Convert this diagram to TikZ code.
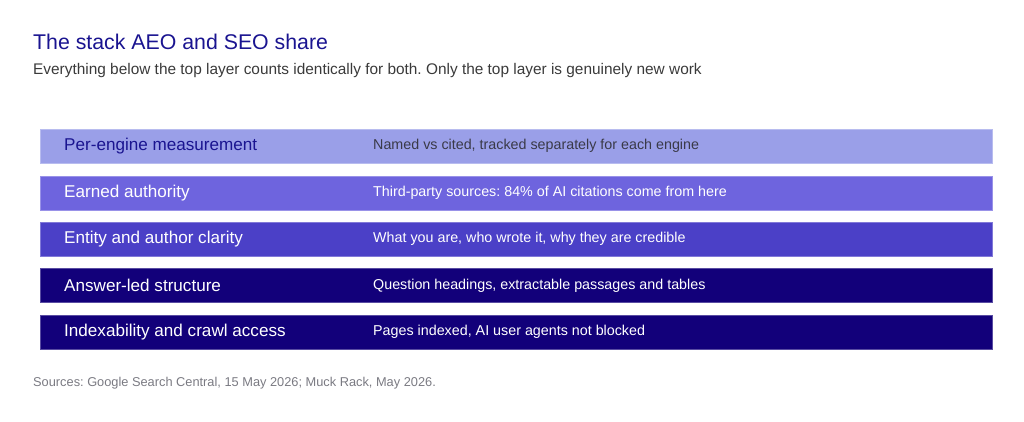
\documentclass[tikz,border=0pt]{standalone}
\usepackage{fontspec}
\setmainfont{Liberation Sans}
\frenchspacing
\definecolor{titleblue}{HTML}{1A1490}
\definecolor{subgrey}{HTML}{3A3A3A}
\definecolor{srcgrey}{HTML}{7A7A82}
\definecolor{rowA}{HTML}{9A9FE8}
\definecolor{rowB}{HTML}{6E64DE}
\definecolor{rowC}{HTML}{4B40C7}
\definecolor{rowD}{HTML}{12007A}
\definecolor{labA}{HTML}{1A1490}
\definecolor{descA}{HTML}{3A3A48}
\begin{document}
\begin{tikzpicture}[x=1pt,y=-1pt,
  rowbox/.style={draw=#1!70!white, line width=0.8pt, fill=#1, minimum width=952pt, minimum height=34pt, inner sep=0pt, anchor=west},
  lab/.style={anchor=west, inner sep=0pt, font=\fontsize{17.1}{20}\selectfont},
  desc/.style={anchor=west, inner sep=0pt, font=\fontsize{14.3}{17}\selectfont}]
\useasboundingbox (0,0) rectangle (1024,421);
\node[anchor=base west, inner sep=0pt, text=titleblue, font=\fontsize{21.3}{25}\selectfont] (title) at (33,49.5) {The stack AEO and SEO share};
\node[anchor=base west, inner sep=0pt, text=subgrey, font=\fontsize{15.4}{18}\selectfont] (sub) at (33,74) {Everything below the top layer counts identically for both. Only the top layer is genuinely new work};
\node[rowbox=rowA] (r1) at (40,146) {};
\node[rowbox=rowB] (r2) at (40,193) {};
\node[rowbox=rowC] (r3) at (40,239) {};
\node[rowbox=rowD] (r4) at (40,285.5) {};
\node[rowbox=rowD] (r5) at (40,332) {};
\node[lab, text=labA] (l1) at (64,146) {Per-engine measurement};
\node[lab, text=white] (l2) at (64,193) {Earned authority};
\node[lab, text=white] (l3) at (64,239) {Entity and author clarity};
\node[lab, text=white] (l4) at (64,285.5) {Answer-led structure};
\node[lab, text=white] (l5) at (64,332) {Indexability and crawl access};
\node[desc, text=descA] (d1) at (373,146) {Named vs cited, tracked separately for each engine};
\node[desc, text=white] (d2) at (373,193) {Third-party sources: 84\% of AI citations come from here};
\node[desc, text=white] (d3) at (373,239) {What you are, who wrote it, why they are credible};
\node[desc, text=white] (d4) at (373,285.5) {Question headings, extractable passages and tables};
\node[desc, text=white] (d5) at (373,332) {Pages indexed, AI user agents not blocked};
\node[anchor=base west, inner sep=0pt, text=srcgrey, font=\fontsize{12.8}{15}\selectfont] (src) at (33,386) {Sources: Google Search Central, 15 May 2026; Muck Rack, May 2026.};
\end{tikzpicture}
\end{document}
